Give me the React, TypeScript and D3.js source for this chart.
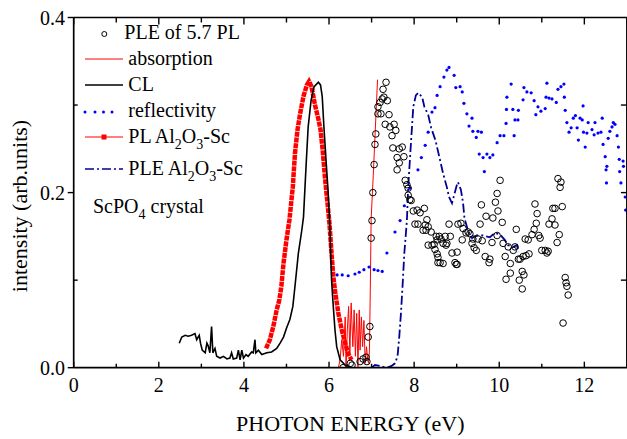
import React from 'react';
import * as d3 from 'd3';

// CL (black line)
const clData: [number, number][] = [
  [2.48, 0.028], [2.54, 0.035], [2.62, 0.037], [2.69, 0.036], [2.77, 0.037], [2.85, 0.039], [2.89, 0.032],
  [2.95, 0.037], [2.98, 0.028], [3.02, 0.02], [3.09, 0.017], [3.13, 0.028], [3.16, 0.025], [3.2, 0.017],
  [3.24, 0.047], [3.27, 0.017], [3.32, 0.022], [3.36, 0.013], [3.44, 0.011], [3.52, 0.013], [3.6, 0.01],
  [3.67, 0.011], [3.71, 0.017], [3.75, 0.01], [3.83, 0.011], [3.87, 0.02], [3.91, 0.009], [3.95, 0.02],
  [3.99, 0.011], [4.05, 0.015], [4.1, 0.013], [4.18, 0.018], [4.22, 0.017], [4.26, 0.032], [4.28, 0.017],
  [4.34, 0.02], [4.42, 0.015], [4.54, 0.017], [4.65, 0.018], [4.77, 0.022], [4.85, 0.028], [4.93, 0.035],
  [5.0, 0.045], [5.08, 0.055], [5.15, 0.07], [5.2, 0.093], [5.28, 0.131], [5.36, 0.157], [5.4, 0.172],
  [5.46, 0.23], [5.51, 0.275], [5.58, 0.306], [5.65, 0.321], [5.75, 0.326], [5.8, 0.323], [5.84, 0.31],
  [5.88, 0.275], [5.93, 0.237], [5.98, 0.2], [6.02, 0.16], [6.06, 0.1], [6.1, 0.07], [6.14, 0.043],
  [6.18, 0.024], [6.26, 0.009], [6.38, 0.003], [6.53, 0.0],
];

// PL Al2O3-Sc (thick red)
const plData: [number, number][] = [
  [4.52, 0.022], [4.61, 0.032], [4.69, 0.047], [4.77, 0.066], [4.83, 0.077], [4.88, 0.093], [4.93, 0.119],
  [5.0, 0.146], [5.07, 0.169], [5.15, 0.207], [5.2, 0.245], [5.26, 0.272], [5.32, 0.29], [5.4, 0.31],
  [5.48, 0.323], [5.53, 0.327], [5.59, 0.321], [5.67, 0.3], [5.75, 0.284], [5.8, 0.272], [5.85, 0.249],
  [5.91, 0.214], [5.96, 0.19], [6.01, 0.165], [6.06, 0.13], [6.1, 0.105], [6.14, 0.088], [6.22, 0.062],
  [6.3, 0.043], [6.38, 0.028], [6.45, 0.016], [6.53, 0.009],
];

// absorption (thin red)
const absData: [number, number][] = [
  [6.22, 0.0], [6.26, 0.009], [6.3, 0.032], [6.34, 0.013], [6.38, 0.058], [6.4, 0.001], [6.43, 0.043],
  [6.46, 0.07], [6.49, 0.016], [6.52, 0.074], [6.56, 0.024], [6.59, 0.066], [6.62, 0.013], [6.65, 0.062],
  [6.68, 0.001], [6.71, 0.066], [6.73, 0.02], [6.76, 0.058], [6.79, 0.024], [6.82, 0.054], [6.85, 0.005],
  [6.88, 0.024], [6.91, 0.009], [6.93, 0.005], [6.95, 0.02], [6.97, 0.09], [6.99, 0.17], [7.04, 0.22],
  [7.09, 0.275], [7.14, 0.329],
];

// PLE Al2O3-Sc (navy dash-dot)
const pleAlData: [number, number][] = [
  [7.0, 0.0], [7.08, 0.003], [7.2, 0.002], [7.36, 0.0], [7.47, 0.002], [7.55, 0.005], [7.61, 0.013],
  [7.65, 0.035], [7.69, 0.062], [7.73, 0.095], [7.77, 0.131], [7.83, 0.168], [7.86, 0.206], [7.93, 0.26],
  [7.98, 0.298], [8.04, 0.311], [8.1, 0.314], [8.19, 0.309], [8.24, 0.298], [8.33, 0.289], [8.4, 0.274],
  [8.5, 0.26], [8.61, 0.237], [8.68, 0.222], [8.77, 0.206], [8.82, 0.195], [8.89, 0.188], [8.94, 0.197],
  [9.0, 0.208], [9.03, 0.212], [9.1, 0.203], [9.15, 0.188], [9.18, 0.172], [9.2, 0.168], [9.24, 0.161],
  [9.27, 0.155], [9.36, 0.148], [9.47, 0.151], [9.62, 0.151], [9.78, 0.149], [9.9, 0.154], [10.02, 0.152],
  [10.13, 0.146], [10.2, 0.14], [10.33, 0.138], [10.42, 0.14], [10.45, 0.132],
];

// reflectivity (blue dots)
const reflData: [number, number][] = [
  [6.19, 0.106], [6.31, 0.106], [6.45, 0.105], [6.61, 0.107], [6.71, 0.109], [6.82, 0.112], [6.94, 0.115],
  [7.06, 0.112], [7.15, 0.111], [7.25, 0.11], [7.36, 0.131], [7.55, 0.155], [7.67, 0.168], [7.77, 0.185],
  [7.9, 0.205], [8.09, 0.226], [8.17, 0.24], [8.26, 0.254], [8.33, 0.269], [8.42, 0.292], [8.49, 0.297],
  [8.54, 0.311], [8.61, 0.321], [8.7, 0.332], [8.77, 0.34], [8.82, 0.343], [8.94, 0.334], [8.98, 0.32],
  [9.08, 0.321], [9.13, 0.315], [9.17, 0.302], [9.24, 0.29], [9.29, 0.276], [9.36, 0.285], [9.38, 0.27],
  [9.46, 0.263], [9.5, 0.27], [9.53, 0.244], [9.58, 0.269], [9.62, 0.24], [9.65, 0.224], [9.71, 0.244],
  [9.78, 0.24], [9.85, 0.243], [9.95, 0.257], [10.02, 0.265], [10.11, 0.265], [10.16, 0.279], [10.17, 0.295],
  [10.18, 0.309], [10.28, 0.324], [10.32, 0.295], [10.35, 0.265], [10.37, 0.283], [10.44, 0.283], [10.45, 0.294],
  [10.56, 0.306], [10.58, 0.32], [10.65, 0.315], [10.75, 0.314], [10.82, 0.305], [10.86, 0.289], [10.91, 0.298],
  [10.98, 0.293], [11.08, 0.296], [11.1, 0.309], [11.12, 0.325], [11.17, 0.308], [11.24, 0.307], [11.34, 0.303],
  [11.38, 0.318], [11.45, 0.321], [11.52, 0.324], [11.53, 0.309], [11.55, 0.294], [11.59, 0.28], [11.64, 0.269],
  [11.69, 0.274], [11.74, 0.285], [11.79, 0.288], [11.83, 0.274], [11.86, 0.26], [11.9, 0.285], [11.95, 0.283],
  [11.97, 0.299], [11.98, 0.269], [12.02, 0.252], [12.06, 0.268], [12.09, 0.28], [12.18, 0.272], [12.23, 0.266],
  [12.25, 0.28], [12.32, 0.268], [12.39, 0.269], [12.42, 0.285], [12.44, 0.255], [12.49, 0.241], [12.53, 0.23],
  [12.51, 0.226], [12.52, 0.211], [12.56, 0.262], [12.6, 0.27], [12.65, 0.275], [12.68, 0.28], [12.72, 0.278],
  [12.77, 0.265], [12.8, 0.252], [12.82, 0.238], [12.83, 0.224], [12.86, 0.211], [12.91, 0.236], [12.92, 0.23],
  [12.96, 0.195], [12.97, 0.18],
];

// PLE of 5.7 PL (open circles)
const pleData: [number, number][] = [
  [6.33, 0.0], [6.5, 0.005], [6.54, 0.003], [6.73, 0.007], [6.8, 0.01], [6.87, 0.012], [6.89, 0.007],
  [6.92, 0.035], [6.96, 0.047], [6.99, 0.148], [7.01, 0.168], [7.03, 0.2], [7.06, 0.232], [7.08, 0.255],
  [7.1, 0.267], [7.15, 0.29], [7.15, 0.298], [7.2, 0.303], [7.22, 0.29], [7.25, 0.307], [7.27, 0.318],
  [7.29, 0.309], [7.32, 0.278], [7.34, 0.326], [7.37, 0.305], [7.41, 0.289], [7.43, 0.275], [7.48, 0.265],
  [7.5, 0.251], [7.53, 0.278], [7.57, 0.271], [7.6, 0.24], [7.6, 0.226], [7.65, 0.25], [7.65, 0.234],
  [7.72, 0.252], [7.76, 0.241], [7.79, 0.214], [7.83, 0.209], [7.86, 0.205], [7.86, 0.197], [7.9, 0.192],
  [7.93, 0.191], [7.98, 0.179], [8.02, 0.164], [8.07, 0.18], [8.09, 0.164], [8.14, 0.177], [8.21, 0.157],
  [8.24, 0.182], [8.26, 0.163], [8.28, 0.157], [8.3, 0.169], [8.33, 0.161], [8.33, 0.14], [8.4, 0.155],
  [8.42, 0.14], [8.47, 0.141], [8.49, 0.135], [8.52, 0.15], [8.54, 0.146], [8.54, 0.13], [8.56, 0.126],
  [8.56, 0.12], [8.59, 0.15], [8.61, 0.12], [8.63, 0.147], [8.68, 0.142], [8.68, 0.119], [8.73, 0.15],
  [8.75, 0.14], [8.77, 0.142], [8.82, 0.164], [8.85, 0.15], [8.89, 0.131], [8.96, 0.12], [8.99, 0.118],
  [9.01, 0.132], [9.01, 0.118], [9.03, 0.164], [9.1, 0.165], [9.13, 0.146], [9.15, 0.159], [9.22, 0.154],
  [9.27, 0.155], [9.31, 0.153], [9.36, 0.142], [9.38, 0.147], [9.41, 0.137], [9.46, 0.134], [9.5, 0.147],
  [9.55, 0.164], [9.58, 0.186], [9.6, 0.145], [9.67, 0.127], [9.69, 0.173], [9.76, 0.12], [9.78, 0.124],
  [9.83, 0.143], [9.85, 0.171], [9.91, 0.189], [9.95, 0.151], [9.95, 0.199], [9.97, 0.179], [10.02, 0.214],
  [10.07, 0.166], [10.09, 0.142], [10.14, 0.127], [10.16, 0.101], [10.21, 0.138], [10.26, 0.119], [10.26, 0.108],
  [10.33, 0.134], [10.37, 0.138], [10.4, 0.158], [10.45, 0.124], [10.47, 0.1], [10.49, 0.124], [10.54, 0.11],
  [10.54, 0.09], [10.56, 0.127], [10.58, 0.106], [10.63, 0.128], [10.61, 0.147], [10.68, 0.146], [10.7, 0.13],
  [10.77, 0.152], [10.82, 0.158], [10.84, 0.187], [10.87, 0.165], [10.89, 0.176], [10.93, 0.151], [10.96, 0.148],
  [11.0, 0.134], [11.08, 0.134], [11.12, 0.131], [11.15, 0.133], [11.17, 0.164], [11.24, 0.17], [11.26, 0.182],
  [11.31, 0.182], [11.31, 0.163], [11.36, 0.143], [11.38, 0.216], [11.41, 0.152], [11.43, 0.206], [11.45, 0.212],
  [11.48, 0.184], [11.5, 0.051], [11.55, 0.103], [11.57, 0.097], [11.59, 0.093], [11.62, 0.083],
];

const xMajor = [0, 2, 4, 6, 8, 10, 12];
const xMinor = [1, 3, 5, 7, 9, 11];
const yMajor = [0, 0.2, 0.4];
const yMinor = [0.1, 0.3];

const W = 627;
const H = 439;
const FONT = "'Liberation Serif', 'DejaVu Serif', serif";
const NAVY = '#000099';

const App = () => {
  const x = d3.scaleLinear().domain([0, 13]).range([73.7, 626.9]);
  const y = d3.scaleLinear().domain([0, 0.4]).range([367.7, 17.5]);
  const line = d3.line<[number, number]>().x(d => x(d[0])).y(d => y(d[1]));
  const x0 = x(0), x1 = x(13), y0 = y(0), y1 = y(0.4);

  const sub = (t: string) => (
    <tspan fontSize={14} dy={6}>{t}</tspan>
  );

  return (
    <svg width={W} height={H} style={{ position: 'absolute', left: 0, top: 0, background: '#fff', fontFamily: FONT }}>
      <defs>
        <clipPath id="plot">
          <rect x={x0} y={y1} width={x1 - x0} height={y0 - y1} />
        </clipPath>
      </defs>

      <g clipPath="url(#plot)">
        <path d={line(absData) || ''} fill="none" stroke="#ff0000" strokeWidth={1} />
        <path d={line(plData) || ''} fill="none" stroke="#ff0000" strokeWidth={4.5} strokeDasharray="5,0.8" />
        <path d={line(clData) || ''} fill="none" stroke="#000" strokeWidth={1.6} />
        <path d={line(pleAlData) || ''} fill="none" stroke={NAVY} strokeWidth={1.8} strokeDasharray="9,3,2,3" />
        {reflData.map((d, i) => (
          <circle key={'r' + i} cx={x(d[0])} cy={y(d[1])} r={1.6} fill="#0000ff" />
        ))}
        {pleData.map((d, i) => (
          <circle key={'p' + i} cx={x(d[0])} cy={y(d[1])} r={3.3} fill="none" stroke="#000" strokeWidth={1} />
        ))}
      </g>

      {/* frame */}
      <g stroke="#000" strokeWidth={1.7} fill="none">
        <line x1={x0} x2={x1} y1={y0} y2={y0} />
        <line x1={x0} x2={x1} y1={y1} y2={y1} />
        <line x1={x0} x2={x0} y1={y0} y2={y1} />
        <line x1={x1} x2={x1} y1={y0} y2={y1} />
      </g>

      {/* ticks */}
      <g stroke="#000" strokeWidth={1.4}>
        {xMajor.map(v => <line key={'xb' + v} x1={x(v)} x2={x(v)} y1={y0} y2={y0 - 6} />)}
        {xMinor.map(v => <line key={'xbm' + v} x1={x(v)} x2={x(v)} y1={y0} y2={y0 - 4} />)}
        {xMajor.map(v => <line key={'xt' + v} x1={x(v)} x2={x(v)} y1={y1} y2={y1 + 7} />)}
        {xMinor.map(v => <line key={'xtm' + v} x1={x(v)} x2={x(v)} y1={y1} y2={y1 + 5} />)}
        {yMajor.map(v => <line key={'yl' + v} x1={x0} x2={x0 - 6} y1={y(v)} y2={y(v)} />)}
        {yMinor.map(v => <line key={'ylm' + v} x1={x0} x2={x0 + 4} y1={y(v)} y2={y(v)} />)}
        {[0.1, 0.2, 0.3].map(v => <line key={'yr' + v} x1={x1} x2={x1 - 6} y1={y(v)} y2={y(v)} />)}
      </g>

      <g fontSize={20} fill="#000" style={{ fontFamily: FONT }}>
        {xMajor.map(v => (
          <text key={'xl' + v} x={x(v)} y={392} textAnchor="middle">{v}</text>
        ))}
        {yMajor.map(v => (
          <text key={'yl' + v} x={65} y={y(v) + 7} textAnchor="end">{v.toFixed(1)}</text>
        ))}
      </g>

      <text x={(x0 + x1) / 2} y={431} textAnchor="middle" fontSize={22} style={{ fontFamily: FONT }}>PHOTON ENERGY (eV)</text>
      <text transform="translate(27,206) rotate(-90)" textAnchor="middle" fontSize={22} style={{ fontFamily: FONT }}>intensity (arb.units)</text>

      {/* legend */}
      <g fontSize={20} fill="#000" style={{ fontFamily: FONT }}>
        <circle cx={104.3} cy={34} r={2.5} fill="none" stroke="#000" strokeWidth={1} />
        <text x={124.3} y={39}>PLE of 5.7 PL</text>

        <line x1={85} x2={123} y1={59} y2={59} stroke="#ff0000" strokeWidth={1} />
        <text x={128.3} y={64.5}>absorption</text>

        <line x1={85} x2={123} y1={85} y2={85} stroke="#000" strokeWidth={1.6} />
        <text x={128.3} y={91}>CL</text>

        {[85, 95, 103.5, 112].map(px => <circle key={'ld' + px} cx={px} cy={112} r={1.5} fill="#0000ff" />)}
        <text x={128.3} y={117}>reflectivity</text>

        <line x1={85} x2={123} y1={137} y2={137} stroke="#ff0000" strokeWidth={1} />
        <rect x={101.5} y={134.5} width={5} height={5} fill="#ff0000" />
        <text x={128.3} y={143}>PL Al{sub('2')}<tspan dy={-6}>O</tspan>{sub('3')}<tspan dy={-6}>-Sc</tspan></text>

        <line x1={85} x2={123} y1={169} y2={169} stroke={NAVY} strokeWidth={1.6} strokeDasharray="9,3,2,3" />
        <text x={128.3} y={175}>PLE Al{sub('2')}<tspan dy={-6}>O</tspan>{sub('3')}<tspan dy={-6}>-Sc</tspan></text>

        <text x={93} y={213}>ScPO{sub('4')}<tspan dy={-6}> crystal</tspan></text>
      </g>
    </svg>
  );
};

export default App;
